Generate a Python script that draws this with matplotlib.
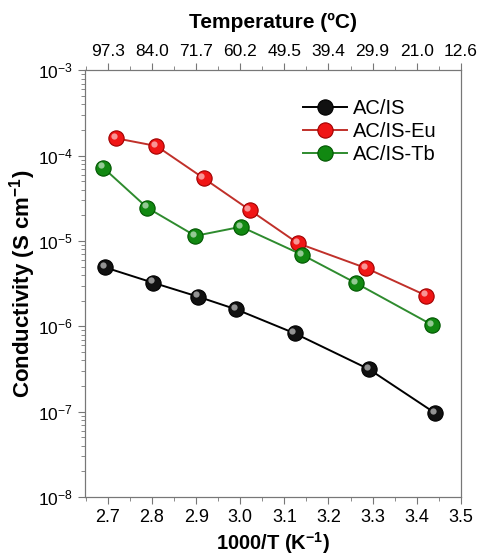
import numpy as np
import matplotlib
matplotlib.use("Agg")
import matplotlib.pyplot as plt
from matplotlib.transforms import offset_copy

plt.rcParams['font.family'] = ['Liberation Sans', 'DejaVu Sans']
plt.rcParams['mathtext.fontset'] = 'custom'
plt.rcParams['mathtext.rm'] = 'Liberation Sans'
plt.rcParams['mathtext.it'] = 'Liberation Sans:italic'
plt.rcParams['mathtext.bf'] = 'Liberation Sans:bold'
plt.rcParams['font.size'] = 13

# data (x = 1000/T, y = conductivity S/cm)
x_ac = [2.694, 2.802, 2.904, 2.991, 3.123, 3.292, 3.442]
y_ac = [4.9e-6, 3.25e-6, 2.23e-6, 1.58e-6, 8.3e-7, 3.14e-7, 9.6e-8]

x_eu = [2.719, 2.810, 2.917, 3.021, 3.131, 3.286, 3.422]
y_eu = [1.60e-4, 1.30e-4, 5.45e-5, 2.32e-5, 9.4e-6, 4.8e-6, 2.29e-6]

x_tb = [2.689, 2.789, 2.898, 3.002, 3.141, 3.263, 3.435]
y_tb = [7.26e-5, 2.46e-5, 1.15e-5, 1.47e-5, 6.87e-6, 3.2e-6, 1.04e-6]

x_ticks = [2.7, 2.8, 2.9, 3.0, 3.1, 3.2, 3.3, 3.4, 3.5]
temp_labels = ['97.3', '84.0', '71.7', '60.2', '49.5', '39.4', '29.9', '21.0', '12.6']

series = [
    (x_ac, y_ac, 'AC/IS', '#111111', '#000000', 'black'),
    (x_eu, y_eu, 'AC/IS-Eu', '#f01515', '#a00000', '#c0302a'),
    (x_tb, y_tb, 'AC/IS-Tb', '#118811', '#005500', '#2e8b2e'),
]

fig = plt.figure(figsize=(4.83, 5.59), dpi=100)
ax = fig.add_axes([0.176, 0.111, 0.778, 0.763])

hl = offset_copy(ax.transData, fig=fig, x=-1.6, y=1.6, units='points')
for xs, ys, lab, fc, ec, lc in series:
    ax.plot(xs, ys, '-', color=lc, lw=1.4, marker='o', ms=11,
            mfc=fc, mec=ec, mew=0.8, label=lab, zorder=3)
    # little highlight to mimic the shaded spheres
    ax.plot(xs, ys, 'o', ms=4.5, mfc='white', mec='none', alpha=0.55,
            transform=hl, zorder=4)

ax.set_yscale('log')
ax.set_ylim(1e-8, 1e-3)
ax.set_xlim(2.648, 3.5)
ax.set_xticks(x_ticks)
ax.set_xticks(np.arange(2.65, 3.5, 0.1), minor=True)
ax.set_xticklabels([f'{v:.1f}' for v in x_ticks])

ax.set_xlabel('1000/T (K$^{\\mathbf{-1}}$)', fontweight='bold', fontsize=14.5, labelpad=3)
ax.set_ylabel('Conductivity (S cm$^{\\mathbf{-1}}$)', fontweight='bold', fontsize=16)
ax.yaxis.set_label_coords(-0.125, 0.5)

for s in ax.spines.values():
    s.set_color('#777777')
ax.tick_params(axis='both', which='both', direction='out', color='#777777', labelsize=13)
ax.tick_params(axis='y', labelsize=12.5)
ax.tick_params(which='major', length=5)
ax.tick_params(which='minor', length=3)
ax.tick_params(axis='y', which='both', right=False)

top = ax.twiny()
top.set_xlim(ax.get_xlim())
top.set_xticks(x_ticks)
top.set_xticks(np.arange(2.65, 3.5, 0.1), minor=True)
top.set_xticklabels(temp_labels)
top.tick_params(axis='x', which='both', direction='out', color='#777777', labelsize=12.5)
top.tick_params(which='major', length=5)
top.tick_params(which='minor', length=3)
top.set_xlabel('Temperature (ºC)', fontweight='bold', fontsize=15, labelpad=11)
for s in top.spines.values():
    s.set_color('#777777')

ax.legend(loc='upper right', frameon=False, bbox_to_anchor=(0.985, 0.975),
          handlelength=2.2, handletextpad=0.3, labelspacing=0.2, fontsize=14.5)

fig.savefig('out.png', dpi=100)
